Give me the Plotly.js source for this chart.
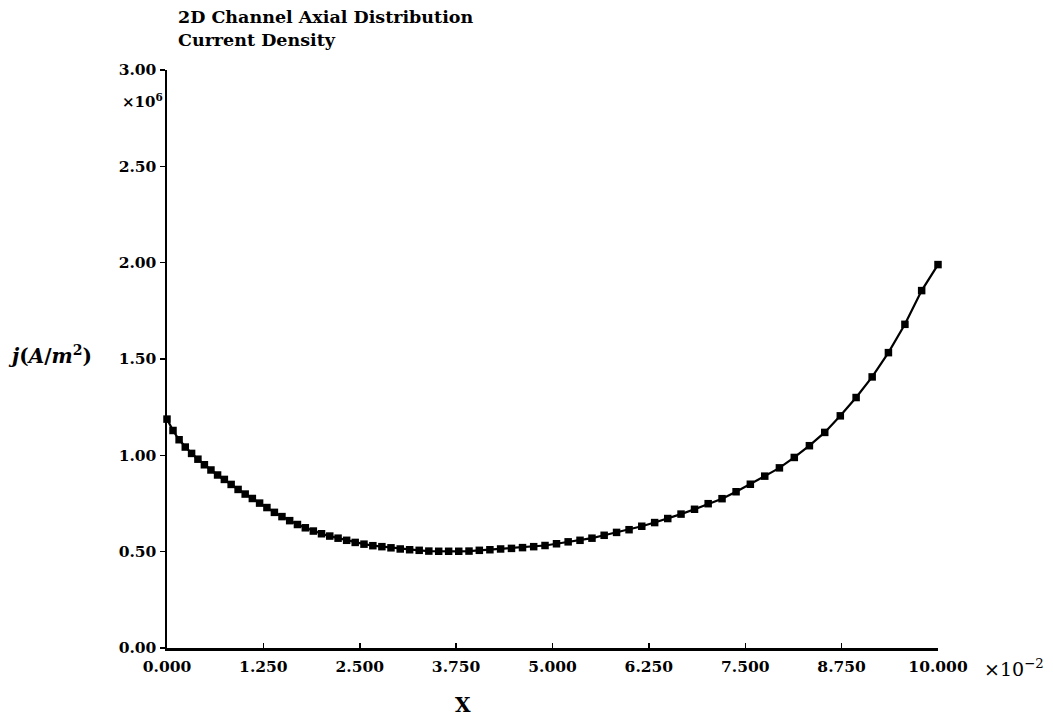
<!DOCTYPE html>
<html>
<head>
<meta charset="utf-8">
<script src="https://cdn.plot.ly/plotly-3.0.1.min.js"></script>
<style>
  html, body { margin: 0; padding: 0; background: #ffffff; }
  #chart { width: 1053px; height: 720px; }
</style>
</head>
<body>
<div id="chart"></div>
<script>
// Axial position along the channel (units of 1e-2)
const axialPosition = [
  0.000, 0.078, 0.157, 0.237, 0.319, 0.401, 0.485, 0.570, 0.656, 0.744,
  0.832, 0.922, 1.014, 1.107, 1.201, 1.296, 1.393, 1.491, 1.591, 1.692,
  1.794, 1.898, 2.004, 2.111, 2.219, 2.330, 2.441, 2.555, 2.670, 2.787,
  2.905, 3.025, 3.147, 3.271, 3.396, 3.524, 3.653, 3.784, 3.917, 4.051,
  4.188, 4.327, 4.468, 4.611, 4.756, 4.903, 5.052, 5.203, 5.357, 5.512,
  5.670, 5.831, 5.993, 6.158, 6.325, 6.495, 6.667, 6.842, 7.019, 7.199,
  7.381, 7.566, 7.753, 7.943, 8.136, 8.332, 8.531, 8.733, 8.938, 9.146,
  9.357, 9.571, 9.788, 10.000
];

// Current density j (units of 1e6 A/m^2)
const currentDensity = [
  1.188, 1.129, 1.081, 1.043, 1.010, 0.980, 0.951, 0.924, 0.898, 0.875,
  0.849, 0.823, 0.799, 0.776, 0.752, 0.729, 0.704, 0.682, 0.661, 0.641,
  0.624, 0.607, 0.593, 0.581, 0.570, 0.559, 0.548, 0.539, 0.531, 0.526,
  0.520, 0.514, 0.510, 0.507, 0.503, 0.502, 0.502, 0.502, 0.503, 0.507,
  0.510, 0.514, 0.517, 0.521, 0.526, 0.532, 0.541, 0.551, 0.559, 0.570,
  0.585, 0.600, 0.614, 0.632, 0.651, 0.672, 0.695, 0.720, 0.749, 0.775,
  0.811, 0.850, 0.892, 0.935, 0.989, 1.050, 1.119, 1.205, 1.300, 1.407,
  1.533, 1.680, 1.855, 1.990
];

// Tick positions and labels
const xTickVals = [0, 1.25, 2.5, 3.75, 5, 6.25, 7.5, 8.75, 10];
const xTickText = ["0.000", "1.250", "2.500", "3.750", "5.000", "6.250", "7.500", "8.750", "10.000"];
const yTickVals = [0, 0.5, 1, 1.5, 2, 2.5, 3];
const yTickText = ["0.00", "0.50", "1.00", "1.50", "2.00", "2.50", "3.00"];

const serif = "DejaVu Serif, Liberation Serif, serif";

const trace = {
  x: axialPosition,
  y: currentDensity,
  type: "scatter",
  mode: "lines+markers",
  line: { color: "#000000", width: 2.2 },
  marker: { symbol: "square", size: 7.5, color: "#000000" },
  cliponaxis: false,
  hoverinfo: "skip"
};

const layout = {
  width: 1053,
  height: 720,
  paper_bgcolor: "#ffffff",
  plot_bgcolor: "#ffffff",
  showlegend: false,
  margin: { l: 167, r: 115, t: 70, b: 72 },
  font: { family: serif, color: "#000000", size: 15, weight: "bold" },
  title: {
    text: "2D Channel Axial Distribution<br>Current Density",
    font: { family: serif, size: 17.5, weight: "bold", color: "#000000" },
    xref: "container", yref: "container",
    x: 178 / 1053, xanchor: "left",
    y: 1 - 23 / 720, yanchor: "top",
    align: "left"
  },
  xaxis: {
    range: [0, 10],
    tickvals: xTickVals,
    ticktext: xTickText,
    ticks: "inside",
    ticklen: 5,
    tickwidth: 1.5,
    tickcolor: "#000000",
    ticklabelstandoff: 3,
    showline: true,
    linecolor: "#000000",
    linewidth: 2.5,
    showgrid: false,
    zeroline: false,
    tickfont: { family: serif, size: 15.5, weight: "bold" },
    fixedrange: true
  },
  yaxis: {
    range: [0, 3],
    tickvals: yTickVals,
    ticktext: yTickText,
    ticks: "outside",
    ticklen: 5,
    tickwidth: 1.5,
    tickcolor: "#000000",
    showline: true,
    linecolor: "#000000",
    linewidth: 2.5,
    showgrid: false,
    zeroline: false,
    tickfont: { family: serif, size: 15.5, weight: "bold" },
    fixedrange: true
  },
  annotations: [
    {
      text: "<i>j</i>(<i>A</i>/<i>m</i><sup>2</sup>)",
      xref: "paper", yref: "paper",
      x: (6 - 167) / 771, xanchor: "left",
      y: 0.507, yanchor: "middle",
      showarrow: false,
      font: { family: serif, size: 20, weight: "bold" }
    },
    {
      text: "×10<sup>6</sup>",
      xref: "paper", yref: "paper",
      x: (165 - 167) / 771, xanchor: "right",
      y: (648 - 101) / 578, yanchor: "middle",
      showarrow: false,
      font: { family: serif, size: 15, weight: "bold" }
    },
    {
      text: "×10<sup>−2</sup>",
      xref: "paper", yref: "paper",
      x: (982 - 167) / 771, xanchor: "left",
      y: (648 - 668) / 578, yanchor: "middle",
      showarrow: false,
      font: { family: serif, size: 19, weight: "normal" }
    },
    {
      text: "X",
      xref: "paper", yref: "paper",
      x: (463 - 167) / 771, xanchor: "center",
      y: (648 - 705) / 578, yanchor: "middle",
      showarrow: false,
      font: { family: serif, size: 20, weight: "bold" }
    }
  ]
};

Plotly.newPlot("chart", [trace], layout, { staticPlot: true, displayModeBar: false });
</script>
</body>
</html>
